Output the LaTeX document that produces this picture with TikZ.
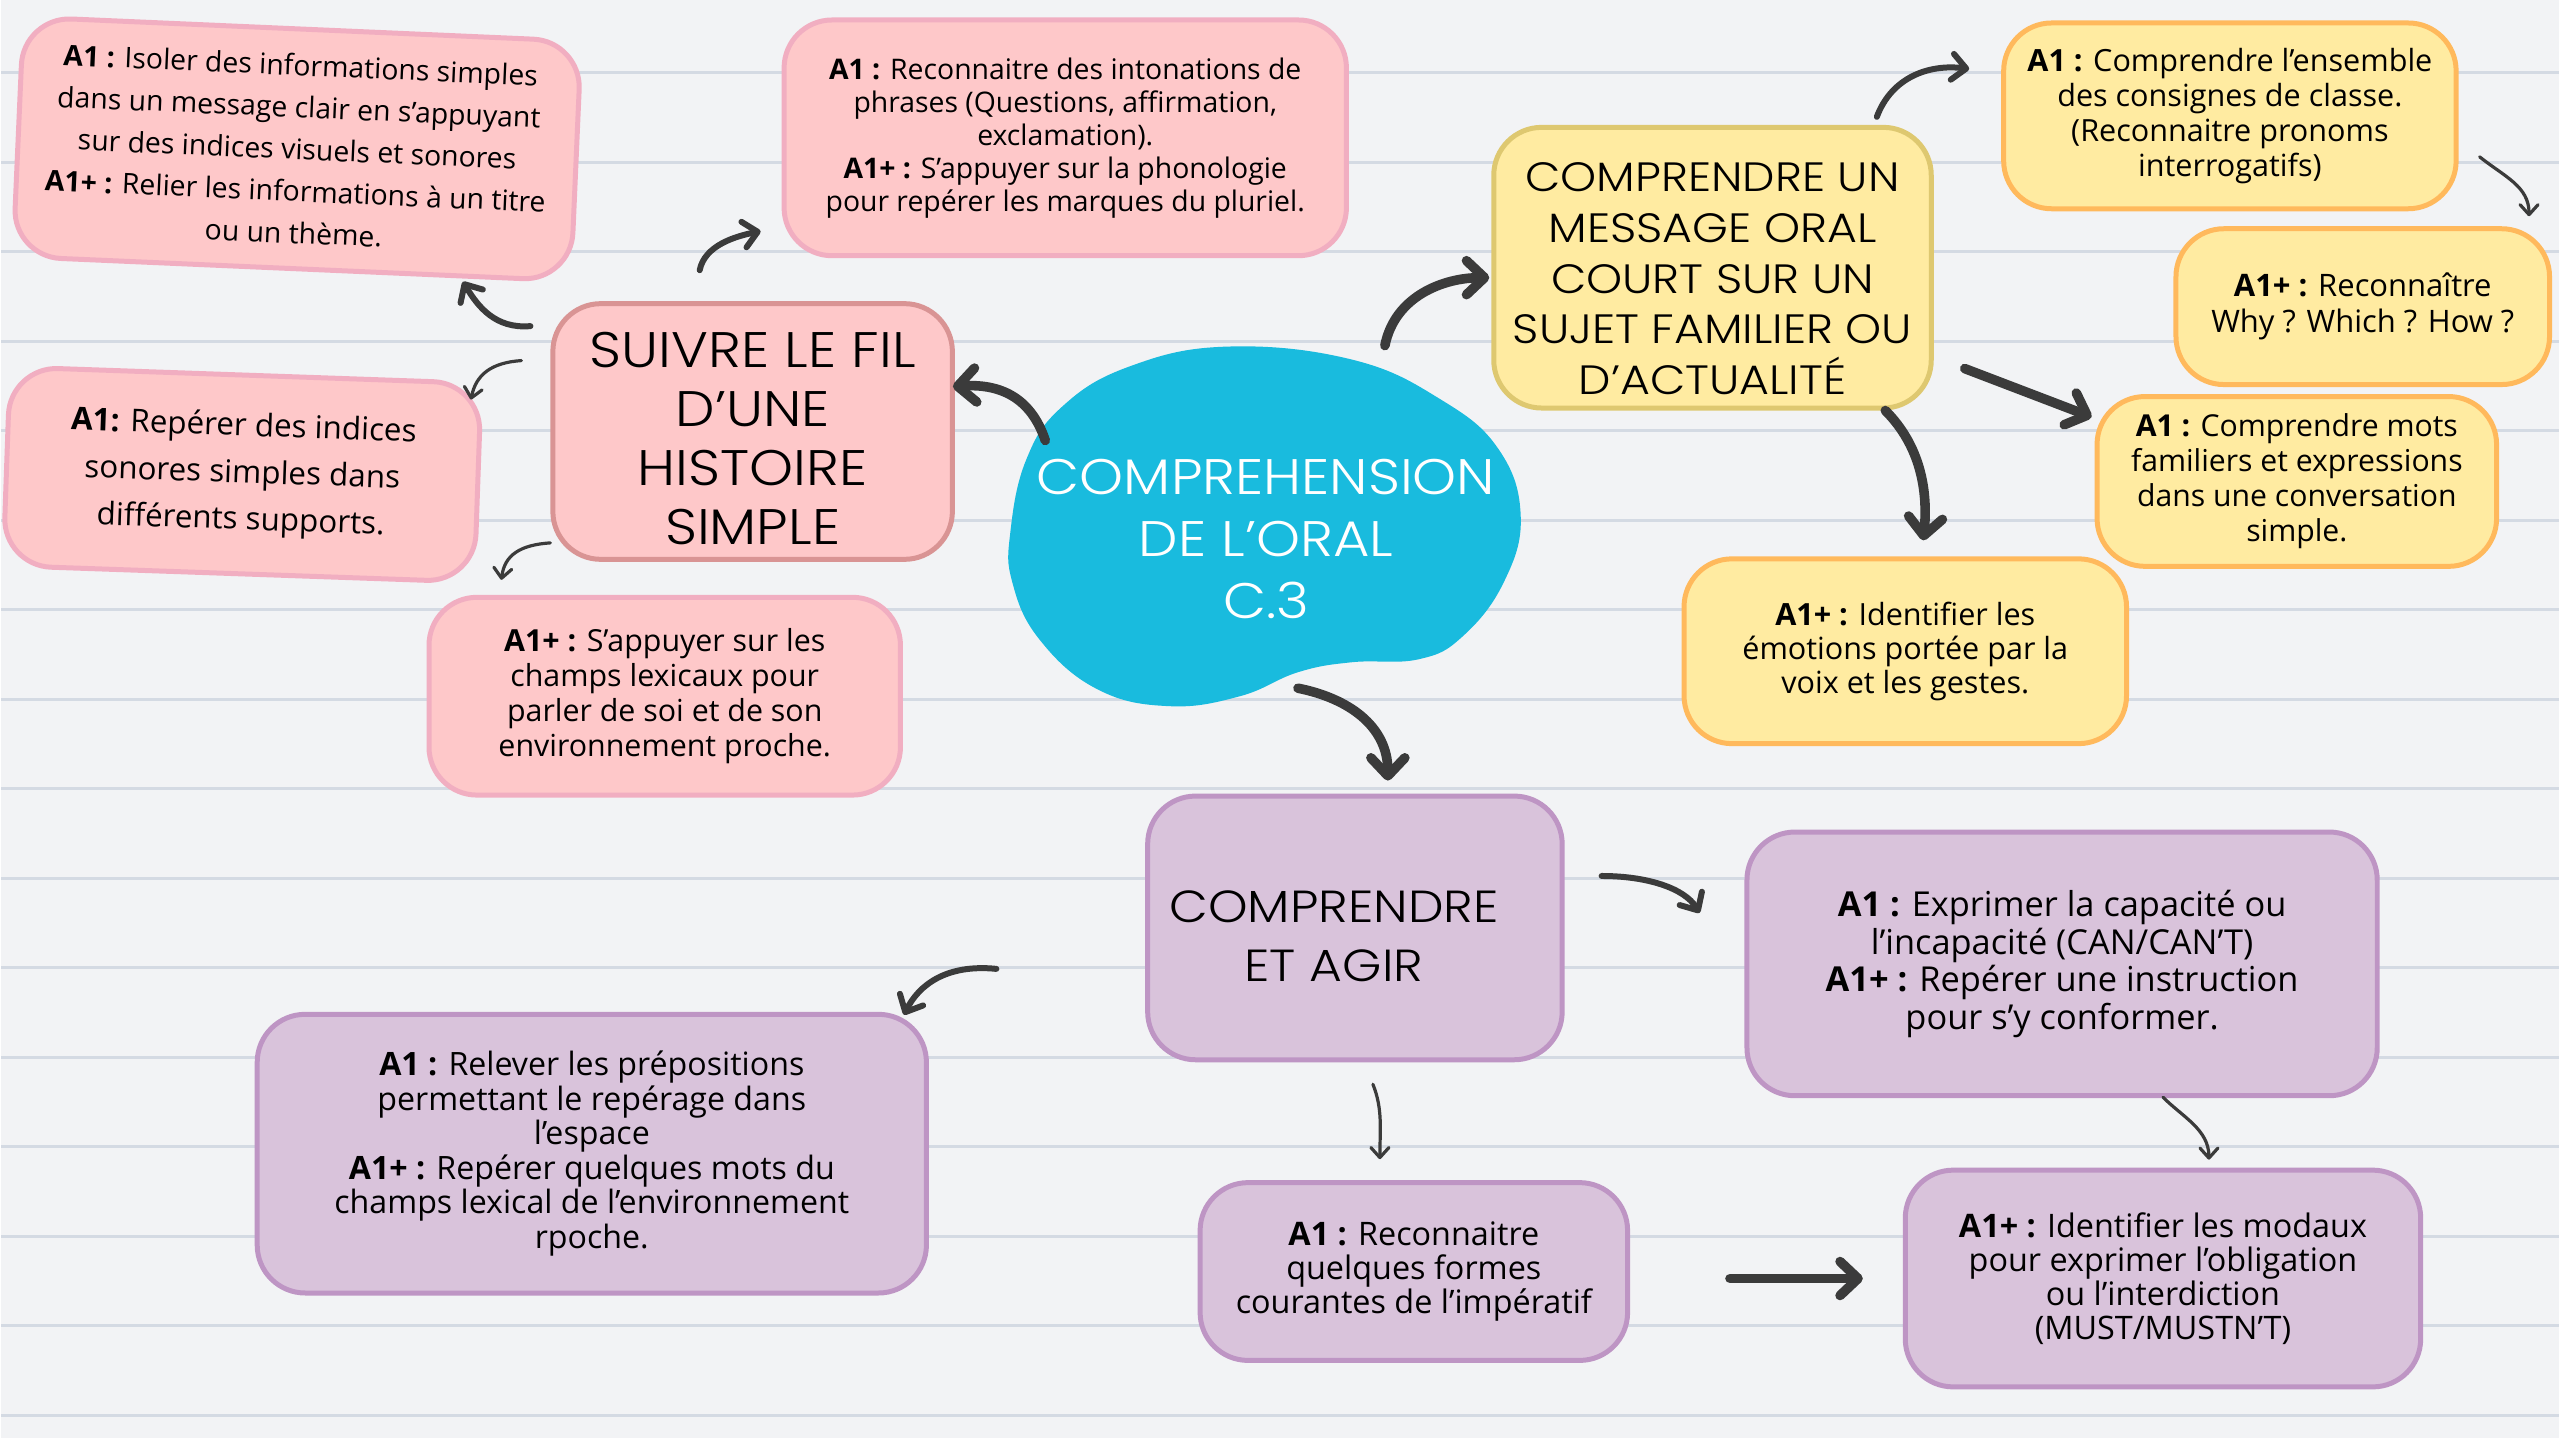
\documentclass[tikz,border=0pt]{standalone}
\usepackage{fontspec}
\setmainfont{Open Sans}
\newfontfamily\handfont{Poppins}[UprightFont={* Light}, FakeStretch=1.12]
\usetikzlibrary{arrows.meta}

\definecolor{paper}{HTML}{F2F3F5}
\definecolor{ruleline}{HTML}{D4DAE3}
\definecolor{pinkfill}{HTML}{FEC8C9}
\definecolor{pinkline}{HTML}{F1AEC1}
\definecolor{pinkdark}{HTML}{D99494}
\definecolor{yellowfill}{HTML}{FFEBA1}
\definecolor{yellowline}{HTML}{FFB95C}
\definecolor{yellowdark}{HTML}{DEC870}
\definecolor{purplefill}{HTML}{D9C3DB}
\definecolor{purpleline}{HTML}{BE95C4}
\definecolor{blobblue}{HTML}{19BBDE}
\definecolor{arrowgray}{HTML}{3B3B3B}

\begin{document}
\begin{tikzpicture}[x=0.5pt, y=-0.5pt,
  box/.style={draw, line width=2.5pt, rounded corners=24pt, align=center, inner sep=0pt},
  dims/.style 2 args={minimum width=#1*0.5pt, minimum height=#2*0.5pt},
  pinkbox/.style={box, fill=pinkfill, draw=pinkline},
  yellowbox/.style={box, fill=yellowfill, draw=yellowline},
  purplebox/.style={box, fill=purplefill, draw=purpleline},
  pinkmain/.style={box, fill=pinkfill, draw=pinkdark, font=\handfont\fontsize{25}{29.5}\selectfont},
  yellowmain/.style={box, fill=yellowfill, draw=yellowdark, font=\handfont\fontsize{20.5}{25.5}\selectfont},
  purplemain/.style={box, fill=purplefill, draw=purpleline, font=\handfont\fontsize{22.5}{29.5}\selectfont},
  coretext/.style={align=center, text=white, font=\handfont\fontsize{25}{31}\selectfont},
  bigarrow/.style={draw=arrowgray, line width=4.8pt, line cap=round, -{Straight Barb[round, length=9pt, width=17pt]}},
  midarrow/.style={draw=arrowgray, line width=3pt, line cap=round, -{Straight Barb[round, length=7pt, width=13pt]}},
  thinarrow/.style={draw=arrowgray, line width=1.6pt, line cap=round, -{Straight Barb[round, length=5pt, width=9pt]}}]

\fill[paper] (0,0) rectangle (2560,1440);
\foreach \k in {0,...,15}
  \draw[ruleline, line width=1.5pt] (0,{73+89.6*\k}) -- (2560,{73+89.6*\k});
\useasboundingbox (0,0) rectangle (2560,1440);

\fill[blobblue] plot[smooth cycle, tension=0.7] coordinates {
  (1227,347) (1352,360) (1441,400) (1499,450) (1521,517) (1504,583) (1463,637)
  (1419,660) (1352,663) (1298,673) (1240,697) (1169,707) (1097,690) (1039,640)
  (1012,583) (1010,533) (1026,460) (1062,407) (1129,367)};

\node [pinkbox, dims={559}{240}, rotate=-2.5, font=\fontsize{14.2}{21}\selectfont] (isoler) at (296,149)
  {\textbf{A1 :} Isoler des informations simples\\dans un message clair en s’appuyant\\sur des indices visuels et sonores\\\textbf{A1+ :} Relier les informations à un titre\\ou un thème.};
\node [pinkbox, dims={563}{236}, font=\fontsize{14.2}{16.5}\selectfont] (intonation) at (1065,138)
  {\textbf{A1 :} Reconnaitre des intonations de\\phrases (Questions, affirmation,\\exclamation).\\\textbf{A1+ :} S’appuyer sur la phonologie\\pour repérer les marques du pluriel.};
\node [pinkmain, dims={400}{256}] (suivre) at (752,432)
  {\rule{0pt}{24.5pt}SUIVRE LE FIL\\D’UNE\\HISTOIRE\\SIMPLE};
\node [pinkbox, dims={472}{199}, rotate=-2, font=\fontsize{15.7}{23.5}\selectfont] (indices) at (241,475)
  {\textbf{A1:} Repérer des indices\\sonores simples dans\\différents supports.};
\node [pinkbox, dims={472}{198}, font=\fontsize{15.2}{17.5}\selectfont] (lexique) at (664,697)
  {\textbf{A1+ :} S’appuyer sur les\\champs lexicaux pour\\parler de soi et de son\\environnement proche.};

\node [coretext] (core) at (1266,540) {COMPREHENSION\\DE L’ORAL\\C.3};

\node [yellowmain, dims={438}{281}] (message) at (1713,268)
  {\rule{0pt}{25.5pt}COMPRENDRE UN\\MESSAGE ORAL\\COURT SUR UN\\SUJET FAMILIER OU\\D’ACTUALITÉ};
\node [yellowbox, dims={453}{186}, font=\fontsize{15.3}{17.5}\selectfont] (consignes) at (2231,116)
  {\textbf{A1 :} Comprendre l’ensemble\\des consignes de classe.\\(Reconnaitre pronoms\\interrogatifs)};
\node [yellowbox, dims={374}{156}, font=\fontsize{15.5}{18}\selectfont] (why) at (2364,307)
  {\textbf{A1+ :} Reconnaître\\Why ? Which ? How ?};
\node [yellowbox, dims={400}{170}, font=\fontsize{15.1}{17.5}\selectfont] (mots) at (2298,482)
  {\textbf{A1 :} Comprendre mots\\familiers et expressions\\dans une conversation\\simple.};
\node [yellowbox, dims={443}{185}, font=\fontsize{15.3}{17}\selectfont] (emotions) at (1906,652)
  {\textbf{A1+ :} Identifier les\\émotions portée par la\\voix et les gestes.};

\node [purplemain, dims={415}{264}] (agir) at (1355,929)
  {\rule{0pt}{24pt}COMPRENDRE\hspace*{21pt}\\ET AGIR\hspace*{21pt}};
\node [purplebox, dims={631}{264}, font=\fontsize{17.2}{18.8}\selectfont] (capacite) at (2063,965)
  {\textbf{A1 :} Exprimer la capacité ou\\l’incapacité (CAN/CAN’T)\\\textbf{A1+ :} Repérer une instruction\\pour s’y conformer.};
\node [purplebox, dims={670}{279}, font=\fontsize{16.1}{17.3}\selectfont] (espace) at (591,1155)
  {\textbf{A1 :} Relever les prépositions\\permettant le repérage dans\\l’espace\\\textbf{A1+ :} Repérer quelques mots du\\champs lexical de l’environnement\\rpoche.};
\node [purplebox, dims={428}{178}, font=\fontsize{16.2}{17}\selectfont] (imperatif) at (1414,1273)
  {\textbf{A1 :} Reconnaitre\\quelques formes\\courantes de l’impératif};
\node [purplebox, dims={516}{217}, font=\fontsize{16.2}{17}\selectfont] (modaux) at (2164,1280)
  {\textbf{A1+ :} Identifier les modaux\\pour exprimer l’obligation\\ou l’interdiction\\(MUST/MUSTN’T)};

\draw [bigarrow] ([shift={(-221,-99)}]core.center) .. controls +(-15,-45) and +(45,-3) .. ([shift={(-2,-45)}]suivre.east);
\draw [bigarrow] ([shift={(119,-194)}]core.center) .. controls +(10,-50) and +(-45,0) .. ([shift={(-2,10)}]message.west);
\draw [bigarrow] ([shift={(32,149)}]core.center) .. controls +(50,10) and +(0,-55) .. ([shift={(33,-13)}]agir.north);

\draw [midarrow] ([shift={(-20,25)}]suivre.north west) .. controls +(-35,3) and +(15,25) .. ([shift={(166,133)}]isoler.center);
\draw [midarrow] ([shift={(-53,-31)}]suivre.north) .. controls +(5,-25) and +(-25,5) .. ([shift={(-21,-27)}]intonation.south west);
\draw [thinarrow] ([shift={(-29,-71)}]suivre.west) .. controls +(-30,2) and +(5,-25) .. ([shift={(229,-75)}]indices.center);
\draw [thinarrow] ([shift={(0,-19)}]suivre.south west) .. controls +(-30,2) and +(3,-25) .. ([shift={(75,-15)}]lexique.north west);

\draw [midarrow] ([shift={(-57,-8)}]message.north east) .. controls +(15,-40) and +(-40,-5) .. ([shift={(-32,-47)}]consignes.west);
\draw [thinarrow] ([shift={(21,41)}]consignes.east) .. controls +(25,20) and +(0,-30) .. ([shift={(-23,-10)}]why.north east);
\draw [bigarrow] ([shift={(31,101)}]message.east) -- ([shift={(-3,23)}]mots.north west);
\draw [bigarrow] ([shift={(173,0)}]message.south) .. controls +(35,35) and +(5,-50) .. ([shift={(18,-16)}]emotions.north);

\draw [midarrow] ([shift={(37,-52)}]agir.east) .. controls +(45,0) and +(-15,-25) .. ([shift={(-45,-51)}]capacite.west);
\draw [midarrow] ([shift={(-149,41)}]agir.west) .. controls +(-50,-5) and +(15,-30) .. ([shift={(-25,3)}]espace.north east);
\draw [thinarrow] ([shift={(18,22)}]agir.south) .. controls +(10,25) and +(0,-30) .. ([shift={(-34,-21)}]imperatif.north);
\draw [bigarrow] ([shift={(100,7)}]imperatif.east) -- ([shift={(-40,0)}]modaux.west);
\draw [thinarrow] ([shift={(101,-1)}]capacite.south) .. controls +(20,20) and +(0,-30) .. ([shift={(46,-8)}]modaux.north);
\end{tikzpicture}
\end{document}
